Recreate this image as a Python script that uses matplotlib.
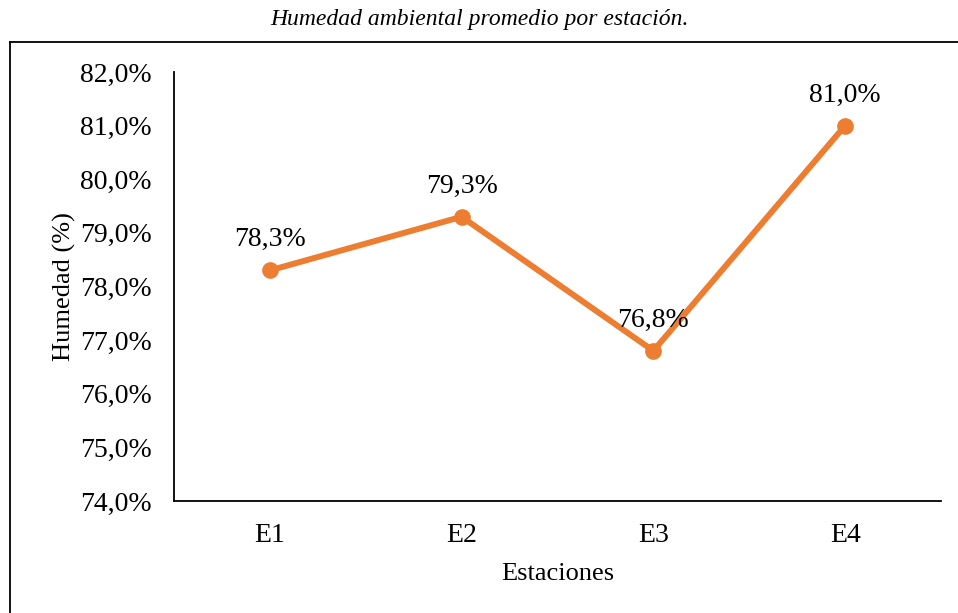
import matplotlib.pyplot as plt
from matplotlib.lines import Line2D
from matplotlib.ticker import FuncFormatter

estaciones = ["E1", "E2", "E3", "E4"]
humedad = [78.3, 79.3, 76.8, 81.0]
y_ticks = [74, 75, 76, 77, 78, 79, 80, 81, 82]

plt.rcParams['font.family'] = ['Liberation Serif', 'DejaVu Serif']

W, H = 958, 613
fig = plt.figure(figsize=(W / 100, H / 100), dpi=100)
ax = fig.add_axes([174 / W, 1 - 501 / H, (941 - 174) / W, (501 - 72) / H])

x = range(len(estaciones))
ax.plot(x, humedad, color="#ED7D31", lw=4.3, marker="o", ms=11, solid_capstyle="round")

for xi, v in zip(x, humedad):
    ax.annotate(f"{v:.1f}%".replace(".", ","), (xi, v), xytext=(0, 22),
                textcoords="offset points", ha="center", va="center", fontsize=20)

ax.set_xlim(-0.5, 3.5)
ax.set_ylim(74, 82)
ax.set_xticks(list(x))
ax.set_xticklabels(estaciones)
ax.set_yticks(y_ticks)
ax.yaxis.set_major_formatter(FuncFormatter(lambda v, p: f"{v:.1f}%".replace(".", ",")))
ax.tick_params(length=0, labelsize=20, pad=16)
ax.tick_params(axis="x", pad=15.8)

for s in ["top", "right"]:
    ax.spines[s].set_visible(False)
for s in ["left", "bottom"]:
    ax.spines[s].set_linewidth(1.3)

ax.set_xlabel("Estaciones", fontsize=19, labelpad=10.5)
ax.set_ylabel("Humedad (%)", fontsize=19, labelpad=3)

fig.text(0.5, 1 - 20 / H, "Humedad ambiental promedio por estación.",
         ha="center", va="center", fontsize=17, style="italic")

# outer frame (left and top only)
fig.add_artist(Line2D([10 / W, 10 / W], [0, 1 - 42 / H], color="black", lw=1.3))
fig.add_artist(Line2D([10 / W, 1], [1 - 42 / H, 1 - 42 / H], color="black", lw=1.3))

fig.savefig("out.png", dpi=100)
